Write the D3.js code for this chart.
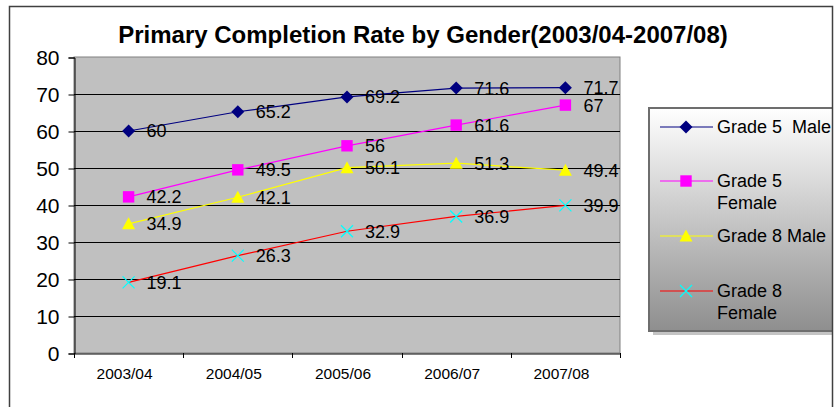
<!DOCTYPE html>
<html>
<head>
<meta charset="utf-8">
<script src="https://cdn.jsdelivr.net/npm/d3@7"></script>
<style>
html,body{margin:0;padding:0;background:#fff;}
svg{display:block;font-family:"Liberation Sans",Arial,sans-serif;}
.pre{white-space:pre;}
</style>
</head>
<body>
<svg id="chart" width="834" height="407"></svg>
<script>
const title = "Primary Completion Rate by Gender(2003/04-2007/08)";
const categories = ["2003/04","2004/05","2005/06","2006/07","2007/08"];
const yTicks = [0,10,20,30,40,50,60,70,80];
const seriesNames = ["Grade 5  Male","Grade 5 Female","Grade 8 Male","Grade 8 Female"];
const legendLines = [["Grade 5  Male"],["Grade 5","Female"],["Grade 8 Male"],["Grade 8","Female"]];
const grade5Male = [60,65.2,69.2,71.6,71.7];
const grade5Female = [42.2,49.5,56,61.6,67];
const grade8Male = [34.9,42.1,50.1,51.3,49.4];
const grade8Female = [19.1,26.3,32.9,36.9,39.9];

const series = [
  {name:seriesNames[0], values:grade5Male, line:"#000080", fill:"#000080", marker:"diamond"},
  {name:seriesNames[1], values:grade5Female, line:"#FF00FF", fill:"#FF00FF", marker:"square"},
  {name:seriesNames[2], values:grade8Male, line:"#FFFF00", fill:"#FFFF00", marker:"triangle"},
  {name:seriesNames[3], values:grade8Female, line:"#FF0000", fill:"#00FFFF", marker:"x"}
];

const svg = d3.select("#chart");
const plot = {left:74, top:57, right:620, bottom:353};

const x = d3.scaleBand().domain(categories).range([plot.left, plot.right]);
const y = d3.scaleLinear().domain([0,80]).range([plot.bottom, plot.top]);

svg.append("defs").append("clipPath").attr("id","frame")
  .append("rect").attr("x",10).attr("y",7).attr("width",823).attr("height",410);

const grad = svg.select("defs").append("linearGradient").attr("id","lg")
  .attr("x1",0).attr("y1",0).attr("x2",0).attr("y2",1);
grad.append("stop").attr("offset","0%").attr("stop-color","#ffffff");
grad.append("stop").attr("offset","100%").attr("stop-color","#8e8e8e");

// title
svg.append("text").attr("x",423).attr("y",43).attr("text-anchor","middle")
  .attr("font-size",24).attr("font-weight","bold").attr("fill","#000").text(title);

// plot bg
svg.append("rect").attr("x",plot.left).attr("y",plot.top)
  .attr("width",plot.right-plot.left).attr("height",plot.bottom-plot.top)
  .attr("fill","#C0C0C0").attr("stroke","#808080").attr("stroke-width",1);

// gridlines
svg.append("g").selectAll("line").data(yTicks.filter(d=>d>0 && d<80)).join("line")
  .attr("x1",plot.left).attr("x2",plot.right)
  .attr("y1",d=>Math.round(y(d))+0.5).attr("y2",d=>Math.round(y(d))+0.5)
  .attr("stroke","#000").attr("stroke-width",1);

// y axis
const yAxis = d3.axisLeft(y).tickValues(yTicks).tickSize(6).tickPadding(9).tickFormat(d3.format("d"));
const gy = svg.append("g").attr("transform",`translate(${plot.left+0.5},0.5)`).call(yAxis);
gy.selectAll("text").attr("font-size",21).attr("fill","#000").attr("font-family","Liberation Sans, Arial, sans-serif");
gy.selectAll("line,path").attr("stroke","#000");

// x axis
const xAxis = d3.axisBottom(x).tickSize(0).tickPadding(14);
const gx = svg.append("g").attr("transform",`translate(0,${plot.bottom+0.5})`).call(xAxis);
gx.select("path").attr("stroke","#000");
gx.selectAll("text").attr("font-size",15.5).attr("fill","#000").attr("dx",-4)
  .attr("font-family","Liberation Sans, Arial, sans-serif");
const bounds = categories.map(c=>x(c)).concat([plot.right]);
svg.append("g").selectAll("line").data(bounds).join("line")
  .attr("x1",d=>Math.round(d)+0.5).attr("x2",d=>Math.round(d)+0.5)
  .attr("y1",plot.bottom).attr("y2",plot.bottom+5).attr("stroke","#000");

const cx = (i)=>x(categories[i])+x.bandwidth()/2;

function drawMarker(g, type, fill){
  if(type==="diamond"){
    const s=6.5;
    g.append("path").attr("d",`M0,${-s}L${s},0L0,${s}L${-s},0Z`).attr("fill",fill);
  } else if(type==="square"){
    const s=5.7;
    g.append("rect").attr("x",-s).attr("y",-s).attr("width",2*s).attr("height",2*s).attr("fill",fill);
  } else if(type==="triangle"){
    const s=5.5;
    g.append("path").attr("d",`M0,${-s-1}L${s+1},${s}L${-s-1},${s}Z`).attr("fill",fill);
  } else {
    const s=6;
    g.append("path").attr("d",`M${-s},${-s}L${s},${s}M${-s},${s}L${s},${-s}`)
      .attr("stroke",fill).attr("stroke-width",1.2).attr("fill","none");
  }
}

const line = d3.line().x((d,i)=>cx(i)).y(d=>y(d));
series.forEach(s=>{
  svg.append("path").datum(s.values).attr("d",line)
    .attr("fill","none").attr("stroke",s.line).attr("stroke-width",1.2);
});
series.forEach(s=>{
  s.values.forEach((v,i)=>{
    const g = svg.append("g").attr("transform",`translate(${cx(i)},${y(v)})`);
    drawMarker(g, s.marker, s.fill);
  });
});
series.forEach(s=>{
  svg.append("g").selectAll("text").data(s.values).join("text")
    .attr("x",(d,i)=>cx(i)+18).attr("y",d=>y(d)).attr("dy","0.36em")
    .attr("font-size",18).attr("fill","#000").text(d=>d);
});

// legend
const lg = svg.append("g").attr("clip-path","url(#frame)");
const L = {x:649, y:108, w:200, h:223};
lg.append("rect").attr("x",L.x+4).attr("y",L.y+4).attr("width",L.w).attr("height",L.h).attr("fill","#c4c4c4");
lg.append("rect").attr("x",L.x).attr("y",L.y).attr("width",L.w).attr("height",L.h)
  .attr("fill","url(#lg)").attr("stroke","#6e6e6e").attr("stroke-width",2);
const entryY = [127,181,236,291];
series.forEach((s,i)=>{
  const yy = entryY[i];
  lg.append("line").attr("x1",660).attr("x2",713).attr("y1",yy).attr("y2",yy)
    .attr("stroke",s.line).attr("stroke-width",1.2);
  const g = lg.append("g").attr("transform",`translate(686,${yy})`);
  drawMarker(g, s.marker, s.fill);
  const t = lg.append("text").attr("class","pre").attr("x",717).attr("y",yy)
    .attr("font-size",18).attr("fill","#000");
  legendLines[i].forEach((ln,j)=>{
    t.append("tspan").attr("x",717).attr("dy", j===0?"0.36em":"1.2em").text(ln);
  });
});

// chart frame
svg.append("rect").attr("x",9.5).attr("y",6.5).attr("width",823).attr("height",420)
  .attr("fill","none").attr("stroke","#404040").attr("stroke-width",1.5);
</script>
</body>
</html>
